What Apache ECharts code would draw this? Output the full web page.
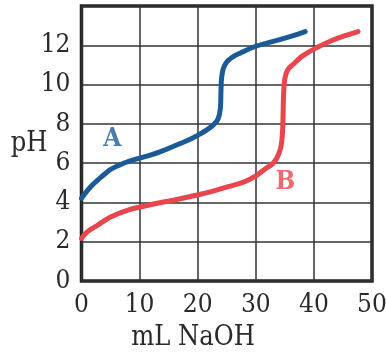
<!DOCTYPE html>
<html lang="en">
<head>
    <meta charset="UTF-8">
    <title>Titration curves</title>
    <script src="https://cdn.jsdelivr.net/npm/echarts/dist/echarts.min.js"></script>
    <style>
        html, body { margin: 0; padding: 0; background: #fff; }
        #chart { width: 386px; height: 354px; }
    </style>
</head>
<body>
    <div id="chart"></div>
    <script>
        // mL NaOH, pH
        var curveA = [
            [0, 4.21], [1, 4.6], [2, 4.92], [2.8, 5.14], [4, 5.45], [5.1, 5.69],
            [6.5, 5.9], [8, 6.08], [10.9, 6.33], [13.5, 6.57], [17, 7.0],
            [18.6, 7.2], [20.2, 7.45], [21.5, 7.68], [22.7, 7.95], [23.5, 8.25],
            [23.9, 8.8], [24.0, 9.6], [24.1, 10.3], [24.4, 10.8], [25.0, 11.15],
            [26, 11.4], [27.3, 11.6], [30, 11.95], [33, 12.2], [36, 12.45], [38.5, 12.7]
        ];
        var curveB = [
            [0, 2.17], [1, 2.5], [2.8, 2.85], [5.1, 3.27], [8, 3.61], [10.9, 3.82],
            [13.5, 3.98], [16.6, 4.16], [19.5, 4.35], [22.3, 4.55], [25.2, 4.8],
            [28.1, 5.06], [30, 5.35], [31.6, 5.7], [32.8, 5.95], [33.6, 6.25],
            [34.3, 6.8], [34.6, 7.6], [34.7, 8.6], [34.8, 9.6], [35.0, 10.3],
            [35.5, 10.75], [36.5, 11.05], [38, 11.45], [40.8, 11.93], [43.3, 12.27],
            [45.5, 12.5], [47.6, 12.7]
        ];
        var labelA = [[5.3, 7.2]];
        var labelB = [[35.1, 5.05]];

        var xTicks = { min: 0, max: 50, step: 10 };
        var yTicks = { min: 0, max: 14, step: 2 };

        var blue = '#1b5a96';
        var red = '#e8454c';
        var ink = '#2a2a2a';
        var serif = '"DejaVu Serif Condensed", "Liberation Serif", serif';

        var chart = echarts.init(document.getElementById('chart'));
        var option = {
            animation: false,
            title: {
                text: 'mL NaOH',
                left: 'center',
                top: 319,
                textStyle: { fontFamily: serif, fontSize: 27, fontWeight: 'normal', color: ink }
            },
            grid: {
                left: 81.5, right: 14, top: 6, bottom: 73,
                outerBoundsMode: 'none',
                show: true,
                borderColor: '#222',
                borderWidth: 3.5
            },
            xAxis: {
                type: 'value',
                min: xTicks.min, max: xTicks.max, interval: xTicks.step,
                axisLine: { show: false },
                axisTick: { show: false },
                axisLabel: { fontFamily: serif, fontSize: 26, color: ink, margin: 11 },
                splitLine: { show: true, lineStyle: { color: '#333', width: 1.5 } }
            },
            yAxis: {
                type: 'value',
                min: yTicks.min, max: yTicks.max, interval: yTicks.step,
                name: 'pH',
                nameLocation: 'middle',
                nameRotate: 0,
                nameGap: 34,
                nameMoveOverlap: false,
                nameTextStyle: { fontFamily: serif, fontSize: 27, color: ink },
                axisLine: { show: false },
                axisTick: { show: false },
                axisLabel: { fontFamily: serif, fontSize: 26, color: ink, margin: 11, showMaxLabel: false },
                splitLine: { show: true, lineStyle: { color: '#333', width: 1.5 } }
            },
            series: [
                {
                    type: 'line', data: curveA, smooth: 0.4, symbol: 'none',
                    lineStyle: { color: blue, width: 5, cap: 'round' }
                },
                {
                    type: 'line', data: curveB, smooth: 0.4, symbol: 'none',
                    lineStyle: { color: red, width: 5, cap: 'round' }
                },
                {
                    type: 'scatter', data: labelA, symbolSize: 0,
                    label: {
                        show: true, position: 'inside', formatter: 'A',
                        fontFamily: serif, fontSize: 26, fontWeight: 'bold', color: blue
                    }
                },
                {
                    type: 'scatter', data: labelB, symbolSize: 0,
                    label: {
                        show: true, position: 'inside', formatter: 'B',
                        fontFamily: serif, fontSize: 26, fontWeight: 'bold', color: red
                    }
                }
            ]
        };
        chart.setOption(option);
    </script>
</body>
</html>
